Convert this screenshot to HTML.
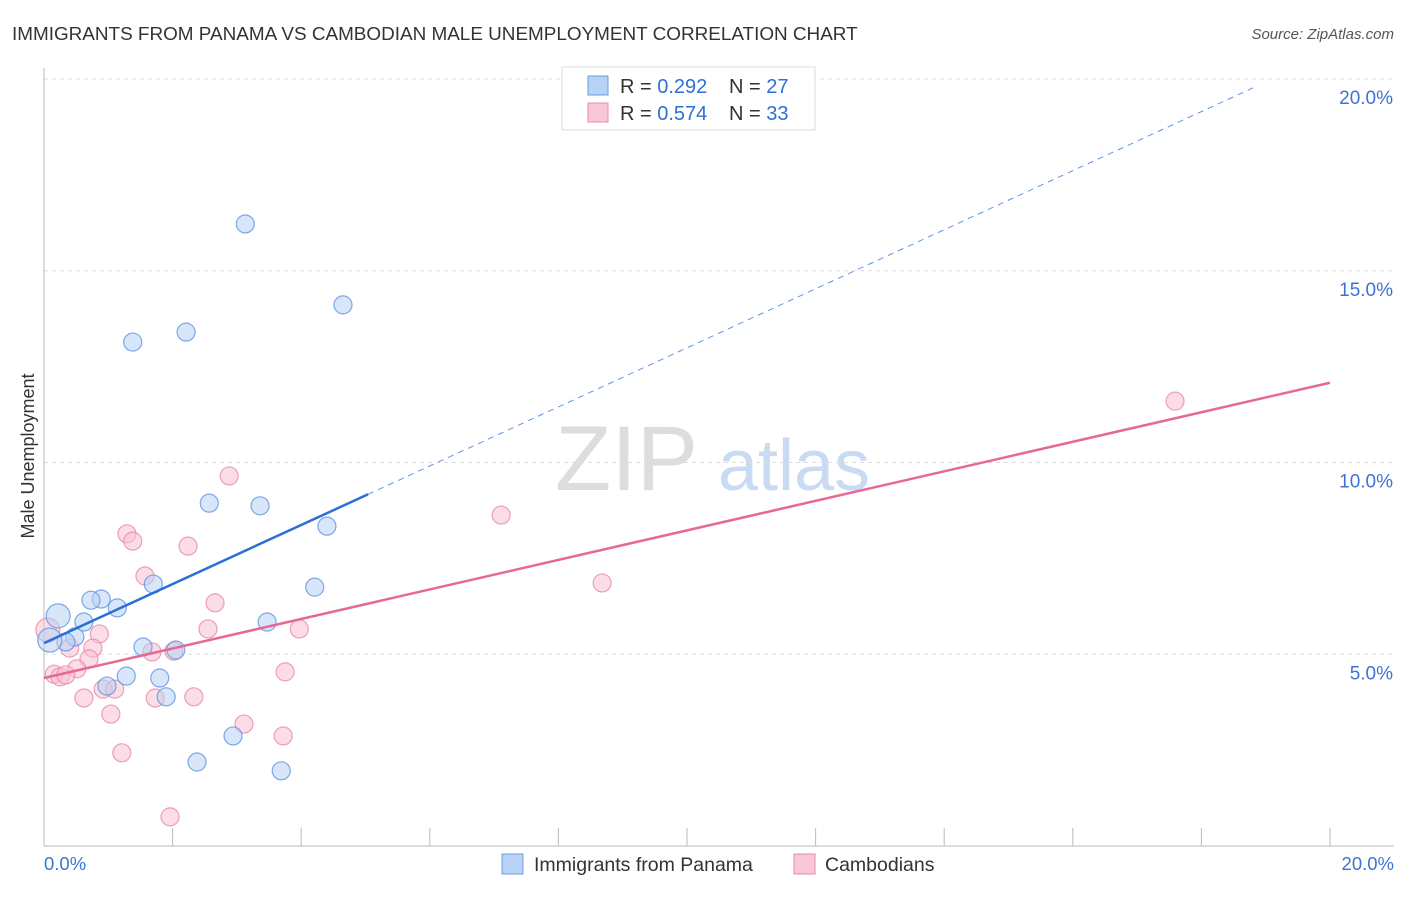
<!DOCTYPE html>
<html><head><meta charset="utf-8"><style>
body{margin:0;background:#fff;font-family:"Liberation Sans",sans-serif;}
svg text{font-family:"Liberation Sans",sans-serif;}
</style></head><body>
<svg id="c" width="1406" height="892">
<text x="12" y="40" font-size="18.9" fill="#333">IMMIGRANTS FROM PANAMA VS CAMBODIAN MALE UNEMPLOYMENT CORRELATION CHART</text>
<text x="1394" y="39" font-size="15" fill="#555" font-style="italic" text-anchor="end">Source: ZipAtlas.com</text>
<text x="34" y="456" font-size="18" fill="#333" text-anchor="middle" transform="rotate(-90 34 456)">Male Unemployment</text>
<text x="555" y="490" font-size="92" fill="#ddd" font-family="Liberation Serif">ZIP</text>
<text x="718" y="490" font-size="72" fill="#c9daf3">atlas</text>
<g id="grid"></g><g id="pts"></g><g id="lines"></g>
<g>
<rect x="562" y="67" width="253" height="63" fill="#fff" stroke="#ddd"/>
<rect x="588" y="76" width="20" height="19" fill="#b8d2f5" stroke="#6a9ee0"/>
<text x="620" y="93" font-size="20" fill="#333">R = <tspan fill="#2f6fd6">0.292</tspan></text>
<text x="729" y="93" font-size="20" fill="#333">N = <tspan fill="#2f6fd6">27</tspan></text>
<rect x="588" y="103" width="20" height="19" fill="#f9c8d6" stroke="#e88aa8"/>
<text x="620" y="120" font-size="20" fill="#333">R = <tspan fill="#2f6fd6">0.574</tspan></text>
<text x="729" y="120" font-size="20" fill="#333">N = <tspan fill="#2f6fd6">33</tspan></text>
</g>
<text x="44" y="870" font-size="18.5" fill="#3d73d6">0.0%</text>
<text x="1394" y="870" font-size="18.5" fill="#3d73d6" text-anchor="end">20.0%</text>
<rect x="502" y="854" width="21" height="20" fill="#b8d2f5" stroke="#6a9ee0"/>
<text x="534" y="871" font-size="19.5" fill="#333">Immigrants from Panama</text>
<rect x="794" y="854" width="21" height="20" fill="#f9c8d6" stroke="#e88aa8"/>
<text x="825" y="871" font-size="19.5" fill="#333">Cambodians</text>
</svg>
<script>
const yTicks=[5,10,15,20];
const blueX=[3.13,1.38,2.21,4.65,2.57,3.36,4.40,1.70,4.21,0.89,0.73,1.14,0.62,0.22,0.48,0.34,3.47,1.54,2.05,0.09,1.28,1.80,0.98,1.90,2.94,2.38,3.69];
const blueY=[16.22,13.14,13.40,14.11,8.94,8.87,8.34,6.83,6.75,6.44,6.41,6.21,5.84,6.00,5.45,5.32,5.84,5.19,5.11,5.37,4.43,4.38,4.17,3.89,2.87,2.19,1.96];
const blueBig=[13,19];
const pinkX=[2.88,1.29,1.38,2.24,7.11,1.57,2.66,8.68,17.59,0.86,2.55,3.97,0.76,0.40,1.68,2.02,0.70,0.51,0.16,0.25,0.34,3.75,0.92,1.10,0.62,1.73,2.33,1.04,3.11,3.72,1.21,1.96,0.06];
const pinkY=[9.65,8.14,7.95,7.82,8.63,7.04,6.34,6.86,11.60,5.53,5.66,5.66,5.16,5.16,5.06,5.08,4.88,4.62,4.48,4.41,4.46,4.54,4.09,4.09,3.86,3.86,3.89,3.44,3.18,2.87,2.43,0.76,5.63];
const pinkBig=[32];
const blueLine=[5.29,0.77];
const pinkLine=[4.38,0.385];
const NS='http://www.w3.org/2000/svg';
const X=v=>44+v*64.3, Y=v=>846-v*38.35;
function mk(t,a,p){const e=document.createElementNS(NS,t);for(const k in a)e.setAttribute(k,a[k]);document.getElementById(p).appendChild(e);return e;}
yTicks.forEach(t=>{
 const l=mk('line',{x1:44,x2:1394,y1:Y(t),y2:Y(t),stroke:'#ddd','stroke-dasharray':'4,4'},'grid');
 
 
 const tx=mk('text',{x:1393,y:Y(t)+25,'font-size':19,fill:'#3d73d6','text-anchor':'end'},'grid');
 tx.textContent=t.toFixed(1)+'%';
 
 
});
const ax=mk('line',{x1:44,x2:44,y1:68,y2:846,stroke:'#bbb'},'grid');


const bx=mk('line',{x1:44,x2:1394,y1:846,y2:846,stroke:'#bbb'},'grid');


for(let i=0;i<=10;i++){
 const t=mk('line',{x1:X(i*2),x2:X(i*2),y1:828,y2:846,stroke:'#bbb'},'grid');
 
 
}
function pts(xs,ys,big,f,s,name){xs.forEach((x,i)=>{
 const r=big.includes(i)?12:9;
 const c=mk('circle',{cx:X(x),cy:Y(ys[i]),r:r,fill:f,'fill-opacity':0.55,stroke:s,'stroke-opacity':0.8,'stroke-width':1.2},'pts');
 
 
});}
pts(pinkX,pinkY,pinkBig,'#f9c0d2','#e88aa8','cambodian-point');
pts(blueX,blueY,blueBig,'#b8d2f5','#5f95de','panama-point');
let l=mk('line',{x1:X(0),y1:Y(blueLine[0]),x2:X(5.04),y2:Y(blueLine[0]+blueLine[1]*5.04),stroke:'#2a6fd8','stroke-width':2.5},'lines');


l=mk('line',{x1:X(5.04),y1:Y(blueLine[0]+blueLine[1]*5.04),x2:X(18.83),y2:Y(blueLine[0]+blueLine[1]*18.83),stroke:'#5f95de','stroke-width':1,'stroke-dasharray':'6,5'},'lines');


l=mk('line',{x1:X(0),y1:Y(pinkLine[0]),x2:X(20),y2:Y(pinkLine[0]+pinkLine[1]*20),stroke:'#e46a93','stroke-width':2.5},'lines');


</script>
</body></html>
